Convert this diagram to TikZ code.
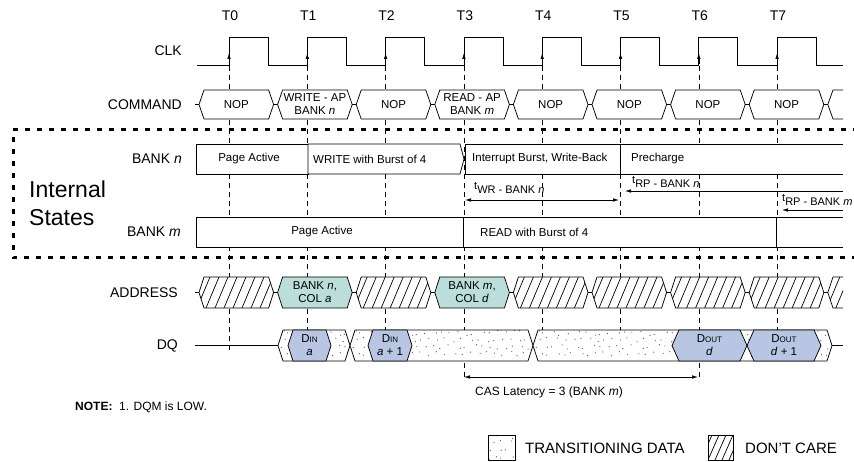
\documentclass[tikz,border=0pt]{standalone}
\usepackage{fontspec}
\setmainfont{Liberation Sans}
\usetikzlibrary{arrows.meta}
\definecolor{addrfill}{HTML}{BCDEDB}
\definecolor{dqfill}{HTML}{B8C6E4}
\definecolor{dotc}{HTML}{555555}
\newcommand{\hexshape}[5]{({#1},{(#3+#4)/2}) -- ({#1+#5},#3) -- ({#2-#5},#3) -- ({#2},{(#3+#4)/2}) -- ({#2-#5},#4) -- ({#1+#5},#4) -- cycle}
\newcommand{\hatchhex}[4]{%
  \begin{scope}
    \clip \hexshape{#1}{#2}{#3}{#4}{5};
    \fill[white] \hexshape{#1}{#2}{#3}{#4}{5};
    \foreach \hh in {-20,-11,...,90} \draw[hatch] ({#1+\hh},#4) -- ({#1+\hh+13},#3);
  \end{scope}
  \draw[wire] \hexshape{#1}{#2}{#3}{#4}{5};}
\newcommand{\mydots}[3]{% x0 y0 width
  \pgfmathsetseed{4711}%
  \foreach \gx in {0,8,...,#3} \foreach \gy in {3,10,...,27} {%
    \pgfmathsetmacro\jx{2.8*rand}%
    \pgfmathsetmacro\jy{2.4*rand}%
    \fill[dotc] ({#1+\gx+\jx+mod(\gy,2)*4},{#2+\gy+\jy}) circle (0.6);}}
\newcommand{\dothex}[5]{%
  \begin{scope}
    \clip \hexshape{#1}{#2}{#3}{#4}{#5};
    \fill[white] \hexshape{#1}{#2}{#3}{#4}{#5};
    \mydots{#1}{#3}{\fpeval{#2-#1+8}}
  \end{scope}
  \draw[wire] \hexshape{#1}{#2}{#3}{#4}{#5};}
\begin{document}
\begin{tikzpicture}[x=1pt,y=-1pt,
  wire/.style={line width=0.75pt},
  vdash/.style={line width=0.6pt, dash pattern=on 5pt off 4pt},
  hatch/.style={line width=0.7pt},
  lab/.style={font=\fontsize{14}{16}\selectfont, anchor=east, inner sep=0},
  tlab/.style={font=\fontsize{14}{16}\selectfont, inner sep=0},
  boxt/.style={font=\fontsize{11.5}{13}\selectfont, align=center, inner sep=0},
  lboxt/.style={font=\fontsize{11.5}{13}\selectfont, anchor=west, inner sep=0},
  tmt/.style={font=\fontsize{11}{13}\selectfont, anchor=west, inner sep=0},
  arr/.style={line width=0.6pt, -{Latex[length=6pt,width=3.5pt]}},
  darr/.style={line width=0.6pt, {Latex[length=6pt,width=3.5pt]}-{Latex[length=6pt,width=3.5pt]}},
  isborder/.style={line width=3pt, dash pattern=on 5pt off 7pt}
]
\useasboundingbox (0,0) rectangle (854,462);
\fill[white] (0,0) rectangle (854,462);

% vertical dashed reference lines
\foreach \k in {0,1,2,4,5,7} \draw[vdash] ({229+78.3*\k},66) -- ({229+78.3*\k},352);
\foreach \k in {3,6} \draw[vdash] ({229+78.3*\k},66) -- ({229+78.3*\k},381);

% row labels
\node[lab] (lclk) at (182,51) {CLK};
\node[lab] (lcmd) at (182,104.5) {COMMAND};
\node[lab] (lbn) at (182,159) {BANK \textit{n}};
\node[lab] (lbm) at (181,232) {BANK \textit{m}};
\node[lab] (ladr) at (178,292.5) {ADDRESS};
\node[lab] (ldq) at (178,345.5) {DQ};

% clock
\draw[wire] (197,65) \foreach \k in {0,...,7} { -- ({229+78.3*\k},65) -- ({229+78.3*\k},37) -- ({268+78.3*\k},37) -- ({268+78.3*\k},65) } -- (843,65);
\foreach \k in {0,...,7} {
  \node[tlab] (t\k) at ({230+78.3*\k},16) {T\k};
  \draw[arr] ({229+78.3*\k},64) -- ({229+78.3*\k},53);
}

% command row
\draw[wire] (195,104.5) -- (199,104.5);
\foreach \k/\txt in {0/NOP,1/{WRITE - AP\\BANK \textit{n}},2/NOP,3/{READ - AP\\BANK \textit{m}},4/NOP,5/NOP,6/NOP,7/NOP} {
  \pgfmathsetmacro\L{199+78.6*\k}
  \pgfmathsetmacro\R{\L+74.6}
  \draw[wire,fill=white] \hexshape{\L}{\R}{90}{119}{5};
  \draw[wire] (\R,104.5) -- ({\L+78.6},104.5);
  \node[boxt] (cmd\k) at ({(\L+\R)/2},104.5) {\txt};
}
\draw[wire] (843,90) -- (833,90) -- (827.8,104.5) -- (833,119) -- (843,119);

% internal states border
\draw[isborder] (858,130) -- (13,130) -- (13,258) -- (858,258);
\node[font=\fontsize{23}{28}\selectfont, align=left, anchor=west, inner sep=0] (ist) at (29,203) {Internal\\States};

% bank n
\draw[wire,fill=white] (196,144) rectangle (308,174);
\node[boxt] (bn1) at (249,159) {Page Active};
\draw[wire,fill=white] (308,174) -- (308,144) -- (460,144) -- (464,159) -- (460,174) -- cycle;
\node[lboxt] (bn2) at (313,159) {WRITE with Burst of 4};
\draw[wire,fill=white] (465,144) rectangle (620,174);
\node[lboxt] (bn3) at (472,159) {Interrupt Burst, Write-Back};
\draw[wire,fill=white] (843,144) -- (620,144) -- (620,174) -- (843,174);
\node[lboxt] (bn4) at (631,159) {Precharge};

% timing arrows
\coordinate (wrA) at (465,200);
\coordinate (wrB) at (619,200);
\draw[darr] (wrA) -- (wrB);
\node[tmt] (twr) at (474,188) {t\raisebox{-4pt}{WR - BANK \textit{n}}};
\coordinate (rpnA) at (843,191);
\coordinate (rpnB) at (625,191);
\draw[arr] (rpnA) -- (rpnB);
\node[tmt] (trpn) at (632,182) {t\raisebox{-4pt}{RP - BANK \textit{n}}};
\coordinate (rpmA) at (843,210);
\coordinate (rpmB) at (782,210);
\draw[arr] (rpmA) -- (rpmB);
\node[tmt] (trpm) at (782,200) {t\raisebox{-4pt}{RP - BANK \textit{m}}};

% bank m
\draw[wire,fill=white] (196,217) rectangle (463,247);
\node[boxt] (bm1) at (322,232) {Page Active};
\draw[wire,fill=white] (463,217) rectangle (776,247);
\node[lboxt] (bm2) at (480,232) {READ with Burst of 4};
\draw[wire,fill=white] (843,217) -- (776,217) -- (776,247) -- (843,247);

% address row
\draw[wire] (195,292.5) -- (199,292.5);
\foreach \k in {0,2,4,5,6,7} {
  \pgfmathsetmacro\L{199+78.6*\k}
  \pgfmathsetmacro\R{\L+74.6}
  \hatchhex{\L}{\R}{277}{308}
}
\foreach \k/\txt in {1/{BANK \textit{n},\\COL \textit{a}},3/{BANK \textit{m},\\COL \textit{d}}} {
  \pgfmathsetmacro\L{199+78.6*\k}
  \pgfmathsetmacro\R{\L+74.6}
  \draw[wire,fill=addrfill] \hexshape{\L}{\R}{277}{308}{5};
  \node[boxt] (adr\k) at ({(\L+\R)/2},292.5) {\txt};
}
\foreach \k in {0,...,7} \draw[wire] ({199+78.6*\k+74.6},292.5) -- ({199+78.6*(\k+1)},292.5);
\begin{scope}
  \clip (843,277) -- (833,277) -- (827.8,292.5) -- (833,308) -- (843,308) -- cycle;
  \foreach \hh in {-10,-1,8} \draw[hatch] ({827.8+\hh},308) -- ({827.8+\hh+13},277);
\end{scope}
\draw[wire] (843,277) -- (833,277) -- (827.8,292.5) -- (833,308) -- (843,308);

% DQ row
\draw[wire] (195,345.5) -- (278,345.5);
\dothex{278}{350}{330}{361}{5}
\dothex{350}{533}{330}{361}{5}
\dothex{533}{832}{330}{361}{5}
\draw[wire] (832,345.5) -- (843,345.5);
\draw[wire,fill=dqfill] \hexshape{288}{331}{330}{361}{5};
\node[boxt] (din1) at (309.5,345.5) {D{\fontsize{8}{9}\selectfont IN}\\\textit{a}};
\draw[wire,fill=dqfill] \hexshape{368}{412}{330}{361}{5};
\node[boxt] (din2) at (390,345.5) {D{\fontsize{8}{9}\selectfont IN}\\\textit{a} + 1};
\draw[wire,fill=dqfill] \hexshape{672}{747}{330}{361}{7};
\node[boxt] (dout1) at (709.5,345.5) {D{\fontsize{8}{9}\selectfont OUT}\\\textit{d}};
\draw[wire,fill=dqfill] \hexshape{747}{821}{330}{361}{7};
\node[boxt] (dout2) at (784,345.5) {D{\fontsize{8}{9}\selectfont OUT}\\\textit{d} + 1};

% CAS latency
\coordinate (casA) at (464,377);
\coordinate (casB) at (698,377);
\draw[darr] (casA) -- (casB);
\node[font=\fontsize{12}{14}\selectfont, anchor=west, inner sep=0] (cas) at (475,392) {CAS Latency = 3 (BANK \textit{m})};

% note
\node[font=\fontsize{12}{14}\selectfont, anchor=west, inner sep=0] (note) at (75,407) {\textbf{NOTE:}\ \ 1. DQM is LOW.};

% legend
\begin{scope}
  \clip (488,435) rectangle (515,460);
  \mydots{487}{433}{32}
\end{scope}
\draw[line width=0.6pt] (488,435) rectangle (515,460);
\node[font=\fontsize{15}{17}\selectfont, anchor=west, inner sep=0] (legt) at (525,448) {TRANSITIONING DATA};
\begin{scope}
  \clip (708,435) rectangle (733,460);
  \foreach \hh in {-14,-7,...,28} \draw[hatch] ({708+\hh},460) -- ({708+\hh+11},435);
\end{scope}
\draw[line width=0.6pt] (708,435) rectangle (733,460);
\node[font=\fontsize{15}{17}\selectfont, anchor=west, inner sep=0] (legd) at (745,448) {DON'T CARE};
\end{tikzpicture}
\end{document}
